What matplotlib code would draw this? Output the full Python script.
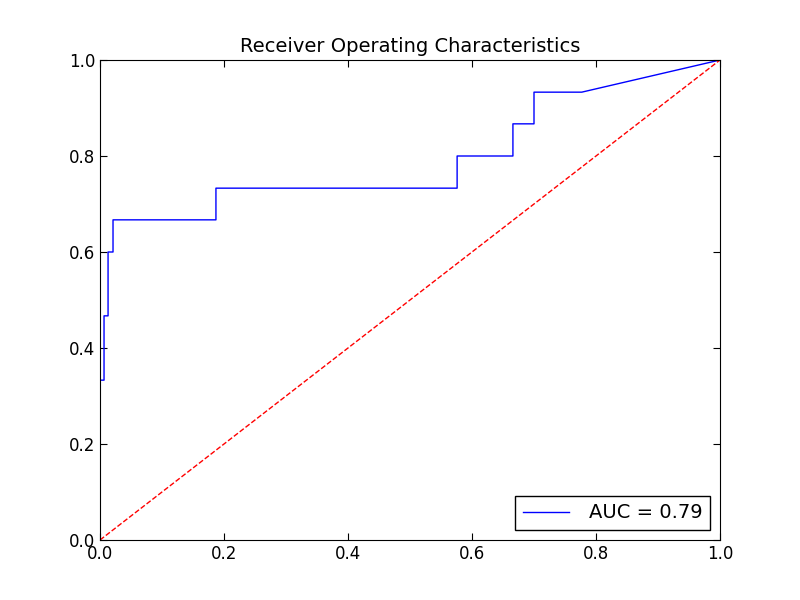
import matplotlib
matplotlib.use('Agg')
import matplotlib.pyplot as plt

# точки ROC-кривой
fpr = [0.0, 0.0, 0.0065, 0.0065, 0.013, 0.013, 0.021, 0.021, 0.187, 0.187,
       0.576, 0.576, 0.666, 0.666, 0.70, 0.70, 0.777, 1.0]
tpr = [0.0, 0.333, 0.333, 0.467, 0.467, 0.6, 0.6, 0.667, 0.667, 0.733,
       0.733, 0.8, 0.8, 0.867, 0.867, 0.933, 0.933, 1.0]
roc_auc = 0.79

fig, ax = plt.subplots(figsize=(8, 6), dpi=100)
fig.subplots_adjust(left=0.125, right=0.9, bottom=0.1, top=0.9)
ax.plot(fpr, tpr, color='blue', lw=1, label='AUC = %0.2f' % roc_auc)
ax.plot([0, 1], [0, 1], 'r--', lw=1)
ax.set_xlim(0, 1)
ax.set_ylim(0, 1)
ax.set_title('Receiver Operating Characteristics', fontsize=14)
ax.tick_params(direction='in', top=True, right=True, labelsize=12, length=5)
leg = ax.legend(loc='lower right', fontsize=14, fancybox=False, framealpha=1,
                handlelength=2.4, handletextpad=1.0)
leg.get_frame().set_edgecolor('black')
fig.savefig('out.png')
